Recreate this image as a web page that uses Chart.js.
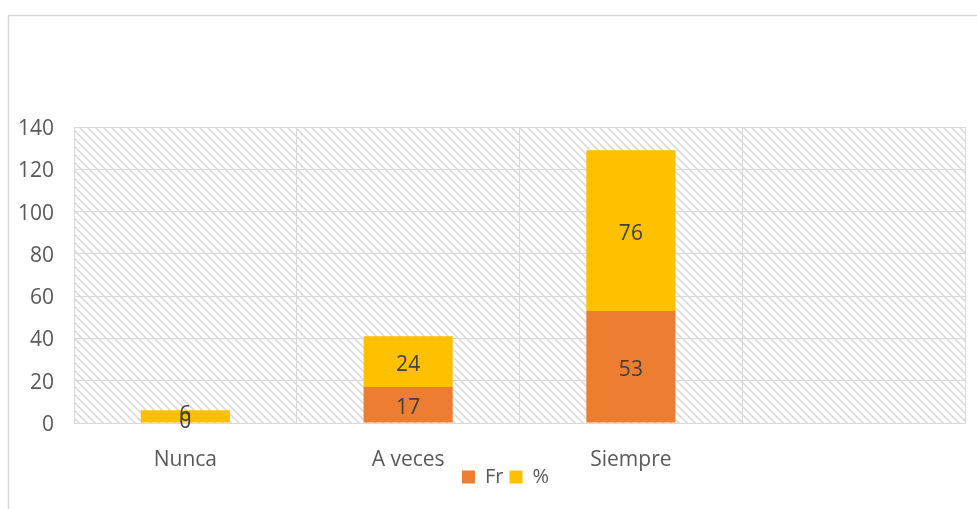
<!DOCTYPE html>
<html>
<head>
<meta charset="utf-8">
<script src="https://cdn.jsdelivr.net/npm/chart.js@4"></script>
<style>
  html, body { margin: 0; padding: 0; background: #fff; }
  #wrap { width: 977px; height: 509px; position: relative; }
</style>
</head>
<body>
<div id="wrap"><canvas id="chart"></canvas></div>
<script>
// ── Data ──────────────────────────────────────────────────────────────────────
const CATEGORIES = ["Nunca", "A veces", "Siempre", ""];
const FR_VALUES  = [0, 17, 53, null];
const PCT_VALUES = [6, 24, 76, null];
const Y_TICKS    = [0, 20, 40, 60, 80, 100, 120, 140];

const FONT  = "'Open Sans', sans-serif";
const GRID  = "#d9d9d9";
const TEXT  = "#595959";

// ── Hatched plot background ───────────────────────────────────────────────────
function makeHatch() {
  const c = document.createElement("canvas");
  c.width = 8; c.height = 8;
  const g = c.getContext("2d");
  g.fillStyle = "#fff";
  g.fillRect(0, 0, 8, 8);
  g.strokeStyle = "#dadada";
  g.lineWidth = 1.6;
  g.beginPath();
  g.moveTo(-1, -1); g.lineTo(9, 9);
  g.moveTo(7, -1);  g.lineTo(9, 1);
  g.moveTo(-1, 7);  g.lineTo(1, 9);
  g.stroke();
  return c;
}

const backdrop = {
  id: "backdrop",
  afterLayout(chart) {
    // the legend sits a bit right of the canvas centre and tucked up under the labels
    const lg = chart.legend;
    if (lg) { lg.left += 23; lg.right += 23; lg.top -= 12; lg.bottom -= 12; }
  },
  beforeDraw(chart) {
    const { ctx, chartArea: a } = chart;
    ctx.save();
    // outer chart frame (left + top edges visible)
    ctx.strokeStyle = GRID;
    ctx.lineWidth = 1.5;
    ctx.beginPath();
    ctx.moveTo(8.5, 509);
    ctx.lineTo(8.5, 15.5);
    ctx.lineTo(977, 15.5);
    ctx.stroke();
    // hatched plot area
    ctx.fillStyle = ctx.createPattern(makeHatch(), "repeat");
    ctx.fillRect(a.left, a.top, a.right - a.left, a.bottom - a.top);
    ctx.restore();
  }
};

// ── Value labels centred in each segment ──────────────────────────────────────
const valueLabels = {
  id: "valueLabels",
  afterDatasetsDraw(chart) {
    const { ctx } = chart;
    ctx.save();
    ctx.font = "21px " + FONT;
    ctx.fillStyle = "#404040";
    ctx.textAlign = "center";
    ctx.textBaseline = "middle";
    chart.data.datasets.forEach((ds, i) => {
      chart.getDatasetMeta(i).data.forEach((bar, j) => {
        const v = ds.data[j];
        if (v == null) return;
        const p = bar.getCenterPoint();
        const dy = v < 10 ? -1 : 3.5;
        ctx.fillText(String(v), p.x, p.y + dy);
      });
    });
    ctx.restore();
  }
};

new Chart(document.getElementById("chart"), {
  type: "bar",
  data: {
    labels: CATEGORIES,
    datasets: [
      { label: "Fr", data: FR_VALUES,  backgroundColor: "#ED7D31" },
      { label: "%",  data: PCT_VALUES, backgroundColor: "#FFC000" },
    ],
  },
  options: {
    responsive: true,
    maintainAspectRatio: false,
    animation: false,
    devicePixelRatio: 1,
    layout: { padding: { top: 127, right: 12, left: 0, bottom: 0 } },
    datasets: { bar: { categoryPercentage: 1, barPercentage: 0.4 } },
    plugins: {
      tooltip: { enabled: false },
      legend: {
        position: "bottom",
        labels: {
          boxWidth: 13, boxHeight: 13, padding: 6,
          color: TEXT, font: { family: FONT, size: 20 },
        },
      },
    },
    scales: {
      x: {
        stacked: true,
        grid: { color: GRID, lineWidth: 1, drawTicks: false },
        border: { color: GRID },
        ticks: { color: TEXT, font: { family: FONT, size: 21 }, padding: 24 },
        afterFit: s => { s.height = 50; },
      },
      y: {
        stacked: true,
        min: 0, max: 140,
        afterBuildTicks: s => { s.ticks = Y_TICKS.map(v => ({ value: v })); },
        grid: { color: GRID, lineWidth: 1, drawTicks: false },
        border: { display: false },
        ticks: { color: TEXT, font: { family: FONT, size: 21 }, padding: 20, labelOffset: 2 },
        afterFit: s => { s.width = 74; },
      },
    },
  },
  plugins: [backdrop, valueLabels],
});
</script>
</body>
</html>
